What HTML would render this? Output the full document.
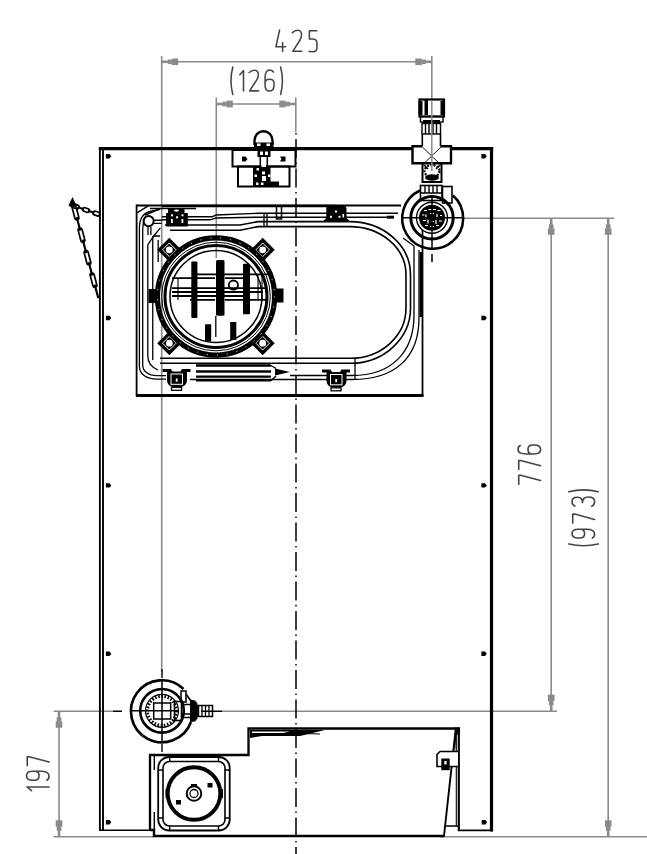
<!DOCTYPE html>
<html><head><meta charset="utf-8">
<style>
html,body{margin:0;padding:0;background:#fff;width:647px;height:854px;overflow:hidden;font-family:"Liberation Sans",sans-serif;}
svg{display:block;position:absolute;left:0;top:0;}
</style></head><body>
<svg width="647" height="854" viewBox="0 0 647 854">
<g fill="none" stroke="#454545" stroke-width="1.55" stroke-linecap="round" stroke-linejoin="round">
<path transform="translate(275.1,30) scale(1.0,1.0)" d="M4.5,0 L0.8,16.8 L10.5,16.8 M7.5,12.5 L7.5,21.5"/><path transform="translate(292,30) scale(1.0,1.0)" d="M0.3,2.6 Q3,0 6,0.2 Q9.5,0.5 9.5,4.8 Q9.5,7.5 8,10 L0.8,21.3 L9.8,21.3"/><path transform="translate(308.7,30) scale(1.0,1.0)" d="M8.2,0.7 L0.7,0.7 L0.7,9 L4.5,9 Q8.2,9.3 8.2,13 L8.2,17.5 Q8.2,21.7 4.2,21.7 L0.3,21.4"/>
<path transform="translate(229.2,70) scale(1.0,0.98)" d="M3.6,-3 Q0,11 3.6,25"/><path transform="translate(239,70) scale(1.0,0.98)" d="M0.8,4.8 L4.5,0.5 L4.5,21.5"/><path transform="translate(248.8,70) scale(1.0,0.98)" d="M0.3,2.6 Q3,0 6,0.2 Q9.5,0.5 9.5,4.8 Q9.5,7.5 8,10 L0.8,21.3 L9.8,21.3"/><path transform="translate(264.5,70) scale(1.0,0.98)" d="M9,2.2 Q8,0 5,0 Q0.6,0 0.6,8 L0.6,15.5 Q0.6,21.5 5,21.5 Q9.5,21.5 9.5,15.5 L9.5,13.8 Q9.5,9.5 5,9.5 Q0.6,9.5 0.6,13.5"/><path transform="translate(280.6,70) scale(1.0,0.98)" d="M0,-3 Q3.6,11 0,25"/>
<g transform="translate(518,486) rotate(-90)"><path transform="translate(1.5,0) scale(1.0,1.05)" d="M0.3,0.7 L9.3,0.7 L9.3,2.5 L4,21.5"/><path transform="translate(16.3,0) scale(1.0,1.05)" d="M0.3,0.7 L9.3,0.7 L9.3,2.5 L4,21.5"/><path transform="translate(31.5,0) scale(1.0,1.05)" d="M9,2.2 Q8,0 5,0 Q0.6,0 0.6,8 L0.6,15.5 Q0.6,21.5 5,21.5 Q9.5,21.5 9.5,15.5 L9.5,13.8 Q9.5,9.5 5,9.5 Q0.6,9.5 0.6,13.5"/></g>
<g transform="translate(572,548) rotate(-90)"><path transform="translate(0.5,0) scale(1.0,1.05)" d="M3.6,-3 Q0,11 3.6,25"/><path transform="translate(9.4,0) scale(1.0,1.05)" d="M0.5,19.3 Q1.5,21.5 4.5,21.5 Q9.4,21.5 9.4,13.5 L9.4,6 Q9.4,0 5,0 Q0.5,0 0.5,6 L0.5,7.5 Q0.5,12 5,12 Q9.4,12 9.4,8"/><path transform="translate(24.6,0) scale(1.0,1.05)" d="M0.3,0.7 L9.3,0.7 L9.3,2.5 L4,21.5"/><path transform="translate(41.4,0) scale(1.0,1.05)" d="M0.5,2.8 Q1.5,0 5,0 Q9.3,0 9.3,5.2 Q9.3,10 4,10 Q9.6,10 9.6,15.5 Q9.6,21.5 5,21.5 Q1.2,21.5 0.3,18.8"/><path transform="translate(56.3,0) scale(1.0,1.05)" d="M0,-3 Q3.6,11 0,25"/></g>
<g transform="translate(26.5,792.5) rotate(-90)"><path transform="translate(1,0) scale(1.0,1.05)" d="M0.8,4.8 L4.5,0.5 L4.5,21.5"/><path transform="translate(11.8,0) scale(1.0,1.05)" d="M0.5,19.3 Q1.5,21.5 4.5,21.5 Q9.4,21.5 9.4,13.5 L9.4,6 Q9.4,0 5,0 Q0.5,0 0.5,6 L0.5,7.5 Q0.5,12 5,12 Q9.4,12 9.4,8"/><path transform="translate(26.5,0) scale(1.0,1.05)" d="M0.3,0.7 L9.3,0.7 L9.3,2.5 L4,21.5"/></g>
</g>
<g stroke="#8a8a8a" stroke-width="1.6" fill="none">
<line x1="161.7" y1="56" x2="161.7" y2="672"/>
<line x1="431.8" y1="56" x2="431.8" y2="100"/>
<line x1="161.7" y1="61.8" x2="431.8" y2="61.8"/>
<line x1="216.3" y1="97.5" x2="216.3" y2="258"/>
<line x1="295.8" y1="97.5" x2="295.8" y2="132"/>
<line x1="216.3" y1="104" x2="295.8" y2="104"/>
<line x1="462" y1="218.3" x2="614" y2="218.3"/>
<line x1="551.2" y1="218.3" x2="551.2" y2="711"/>
<line x1="608.2" y1="218.3" x2="608.2" y2="837"/>
<line x1="53.6" y1="711.2" x2="113" y2="711.2"/>
<line x1="222" y1="711.2" x2="557" y2="711.2"/>
<line x1="53.6" y1="836.8" x2="154" y2="836.8"/>
<line x1="440" y1="836.8" x2="647" y2="836.8"/>
<line x1="59" y1="711.2" x2="59" y2="836.8"/>
</g>
<g fill="#8a8a8a" stroke="none">
<polygon points="161.7,63.1 167.7,63.1 167.7,60.5 161.7,60.5"/><polygon points="167.7,64.1 171.7,64.1 171.7,59.5 167.7,59.5"/><polygon points="171.7,65.1 178.2,65.1 178.2,58.5 171.7,58.5"/>
<polygon points="431.8,60.5 425.8,60.5 425.8,63.1 431.8,63.1"/><polygon points="425.8,59.5 421.8,59.5 421.8,64.1 425.8,64.1"/><polygon points="421.8,58.5 415.3,58.5 415.3,65.1 421.8,65.1"/>
<polygon points="216.3,105.3 222.3,105.3 222.3,102.7 216.3,102.7"/><polygon points="222.3,106.3 226.3,106.3 226.3,101.7 222.3,101.7"/><polygon points="226.3,107.3 232.8,107.3 232.8,100.7 226.3,100.7"/>
<polygon points="295.8,102.7 289.8,102.7 289.8,105.3 295.8,105.3"/><polygon points="289.8,101.7 285.8,101.7 285.8,106.3 289.8,106.3"/><polygon points="285.8,100.7 279.3,100.7 279.3,107.3 285.8,107.3"/>
<polygon points="549.9,218.3 549.9,224.3 552.5,224.3 552.5,218.3"/><polygon points="548.9,224.3 548.9,228.3 553.5,228.3 553.5,224.3"/><polygon points="547.9,228.3 547.9,234.8 554.5,234.8 554.5,228.3"/>
<polygon points="552.5,711.2 552.5,705.2 549.9,705.2 549.9,711.2"/><polygon points="553.5,705.2 553.5,701.2 548.9,701.2 548.9,705.2"/><polygon points="554.5,701.2 554.5,694.7 547.9,694.7 547.9,701.2"/>
<polygon points="606.9,218.3 606.9,224.3 609.5,224.3 609.5,218.3"/><polygon points="605.9,224.3 605.9,228.3 610.5,228.3 610.5,224.3"/><polygon points="604.9,228.3 604.9,234.8 611.5,234.8 611.5,228.3"/>
<polygon points="609.5,836.8 609.5,830.8 606.9,830.8 606.9,836.8"/><polygon points="610.5,830.8 610.5,826.8 605.9,826.8 605.9,830.8"/><polygon points="611.5,826.8 611.5,820.3 604.9,820.3 604.9,826.8"/>
<polygon points="57.7,711.2 57.7,717.2 60.3,717.2 60.3,711.2"/><polygon points="56.7,717.2 56.7,721.2 61.3,721.2 61.3,717.2"/><polygon points="55.7,721.2 55.7,727.7 62.3,727.7 62.3,721.2"/>
<polygon points="60.3,836.8 60.3,830.8 57.7,830.8 57.7,836.8"/><polygon points="61.3,830.8 61.3,826.8 56.7,826.8 56.7,830.8"/><polygon points="62.3,826.8 62.3,820.3 55.7,820.3 55.7,826.8"/>
</g>
<line x1="296" y1="133" x2="296" y2="854" stroke="#000" stroke-width="1.5" stroke-dasharray="19 4.5 1.5 4.5" stroke-dashoffset="23.5"/>
<g stroke="#000" fill="none">
<line x1="99.9" y1="147" x2="99.9" y2="831" stroke-width="1.9"/>
<line x1="103" y1="149.5" x2="103" y2="830" stroke-width="1.9"/>
<line x1="98.8" y1="148.7" x2="493.2" y2="148.7" stroke-width="3.3"/>
<line x1="491.5" y1="147" x2="491.5" y2="831.5" stroke-width="3.2"/>
<line x1="99" y1="830.3" x2="151" y2="830.3" stroke-width="1.6"/>
<line x1="458" y1="830.3" x2="493" y2="830.3" stroke-width="1.8"/>
</g>
<g fill="#000">
<path d="M105.9,154.10000000000002 h3.6 l1.8,2.2 l-1.8,2.2 h-3.6z"/>
<path d="M481.4,154.10000000000002 h3.6 l1.8,2.2 l-1.8,2.2 h-3.6z"/>
<path d="M105.9,315.8 h3.6 l1.8,2.2 l-1.8,2.2 h-3.6z"/>
<path d="M481.4,315.8 h3.6 l1.8,2.2 l-1.8,2.2 h-3.6z"/>
<path d="M105.9,483.2 h3.6 l1.8,2.2 l-1.8,2.2 h-3.6z"/>
<path d="M481.4,483.2 h3.6 l1.8,2.2 l-1.8,2.2 h-3.6z"/>
<path d="M105.9,651.5999999999999 h3.6 l1.8,2.2 l-1.8,2.2 h-3.6z"/>
<path d="M481.4,651.5999999999999 h3.6 l1.8,2.2 l-1.8,2.2 h-3.6z"/>
<path d="M105.9,820.0 h3.6 l1.8,2.2 l-1.8,2.2 h-3.6z"/>
<path d="M481.7,820.0 h3.6 l1.8,2.2 l-1.8,2.2 h-3.6z"/>
</g>
<g stroke="#000" fill="none" stroke-width="1.5">
<line x1="136.5" y1="205.5" x2="401" y2="205.5" stroke-width="2.2"/>
<line x1="136.6" y1="204.5" x2="136.6" y2="396.5" stroke-width="1.8"/>
<line x1="422.5" y1="230" x2="422.5" y2="396.5" stroke-width="1.8"/>
<line x1="136" y1="395.6" x2="423.5" y2="395.6" stroke-width="3"/>
</g>
<g stroke="#000" fill="none" stroke-width="1.8">
<path d="M254.5,145 V140.5 A9,9.3 0 0 1 272.5,140.5 V145" stroke-width="2.4"/>
<rect x="232.5" y="150" width="63" height="16.5" stroke-width="2"/>
<rect x="238" y="166.5" width="51.5" height="20" stroke-width="2"/>
<line x1="260.3" y1="150" x2="260.3" y2="186" stroke-width="1.6"/>
<line x1="267.3" y1="150" x2="267.3" y2="186" stroke-width="1.6"/>
</g>
<g fill="#000">
<rect x="254" y="142.5" width="19.5" height="5"/>
<rect x="257.5" y="150" width="13" height="7"/>
<path d="M242,156.5 h3.5 l2,2.5 l-2,2.5 h-3.5z"/><path d="M280,156.5 h5.5 v5 h-5.5 l1.5,-2.5z"/>
<rect x="253" y="167" width="17.5" height="19"/>
<rect x="268" y="181.5" width="11" height="4.5"/>
</g>
<g fill="#fff">
<rect x="257" y="143.5" width="3.5" height="2.5"/><rect x="266.5" y="143.5" width="3.5" height="2.5"/>
<rect x="260" y="151.5" width="3" height="3.5"/><rect x="265" y="151.5" width="3" height="3.5"/>
<rect x="261.5" y="157" width="4.5" height="10"/>
<rect x="256.5" y="168" width="2.5" height="2.5"/><rect x="254.5" y="174.5" width="2.5" height="2.5"/><rect x="262" y="171.5" width="3" height="3"/>
<rect x="268" y="174.5" width="2.5" height="2.5"/><rect x="256" y="182.5" width="2.5" height="2.5"/><rect x="261" y="182.5" width="2.5" height="2.5"/>
<rect x="262" y="176" width="4" height="5"/>
</g>
<g stroke="#000" fill="none" stroke-width="1.6">
<rect x="419.5" y="99.5" width="24.5" height="17" stroke-width="2.2"/>
<rect x="420.5" y="116.5" width="22.5" height="5.5" stroke-width="1.4"/>
<rect x="422" y="123.5" width="18.5" height="10.5" stroke-width="1.4"/>
<path d="M425.5,124 V134 M429,124 V134 M433,124 V134 M436.5,124 V134" stroke-width="1.4"/>
<path d="M422.3,134 V146 M440.5,134 V146" stroke-width="1.6"/>
<rect x="412.5" y="146.5" width="38.5" height="16.7" stroke-width="0" fill="#fff"/>
<path d="M422.3,146.3 H412.5 V163.2 H451 V146.3 H440.5" stroke-width="2.4"/>
<path d="M422.3,147 L441,165 M441,147 L422.3,165" stroke-width="0.9"/>
<rect x="422.5" y="163" width="19" height="19" stroke-width="2"/>
<rect x="420.5" y="185.5" width="21.5" height="15" stroke-width="1.6"/>
<path d="M425,186 V193 M429,186 V193 M433,186 V193 M437,186 V193 M421,193 H442" stroke-width="1.4"/>
<rect x="442.5" y="186.5" width="9.5" height="16.5" stroke-width="1.6"/>
</g>
<g fill="#000">
<rect x="418.5" y="101" width="4" height="14"/><rect x="440.5" y="101" width="4" height="14"/><rect x="424.5" y="100" width="3.5" height="15"/>
<rect x="423" y="120" width="17" height="3"/>
<ellipse cx="432" cy="171" rx="7.5" ry="6" fill="none" stroke="#000" stroke-width="2.2" stroke-dasharray="2 1.3"/>
<ellipse cx="432" cy="177.5" rx="7" ry="3.2"/>
<path d="M424,165 l4,4 M440,165 l-4,4" stroke="#000" stroke-width="1.5"/>
</g>
<g fill="#fff">
</g>
<g stroke="#000" fill="none" stroke-width="1.8">
<path d="M420,190.5 A30.5,30.5 0 1 0 453,195.5" stroke-width="2.5"/>
<circle cx="432" cy="217.7" r="21.2" stroke-width="3"/>
<circle cx="432" cy="217.7" r="15.5" stroke-width="1.4"/>
</g>
<circle cx="432" cy="217.7" r="13" fill="#000"/>
<g stroke="#fff" stroke-width="1.2" fill="none">
<path d="M424,210.5 h3 M428.5,209.5 h3 M433,209.5 h3 M437.5,210.5 h3 M422,215 h2.5 M426,214.5 v4 M430,213.5 h4 M437,214 v4 M440,215.5 h2 M423,220.5 h3 M428,219.5 v4 M431,221.5 h3 M436,220 v4 M439,221 h3 M425,225.5 h3 M430,226.5 h4 M436,225.5 h3"/>
</g>
<g stroke="#000" fill="none">
<path d="M401,217.7 H462" stroke-width="1.5"/>
<path d="M432,195 V248" stroke-width="1.5"/>
<path d="M432,254 V262" stroke-width="1.5"/>
<path d="M431.8,100 V171" stroke="#8a8a8a" stroke-width="1.5"/>
</g>
<g stroke="#000" fill="none" stroke-width="1.3">
<path d="M162,206 H335" stroke-width="2.4"/>
<path d="M150,208.5 H196" stroke-width="1.3"/>
<path d="M162,216.8 H212 L216,215 L258,213.3 H398" stroke-width="1.4"/>
<path d="M162,219.8 H210 L216,218 L258,217.2 H394" stroke-width="1.4"/>
<path d="M387,217.2 H394" stroke-width="3"/>
<path d="M165,225 H240 L258,221.6 H350 A60.5,53 0 0 1 410.5,274.6 V308 A60,55 0 0 1 350.5,363.3 H160" stroke-width="1.6"/>
<path d="M170,230.2 H240 L258,226.6 H350 A56,48 0 0 1 406,274.6 V308 A55.5,50 0 0 1 350.5,358.3 H160" stroke-width="1.6"/>
<path d="M403,238 L414,246 V315 C414,352 392,375.5 352,375.5 H290" stroke-width="1.3"/>
<path d="M419,250 V318 C419,357 396,379.5 352,379.5 H190" stroke-width="1.3"/>
<path d="M420.8,252 V317" stroke-width="2.4"/>
<path d="M355,358 V380" stroke-width="1.3"/>
<path d="M139.4,366 V228 Q139.4,213 152,211 L160,209.3" />
<path d="M142.7,365 V232 Q142.7,220 146,216"/>
<path d="M139.4,366 C139.4,374 146,379.2 157,379.2 H166"/>
<path d="M142.7,365 C142.7,371 148,375.7 157,375.7 H166"/>
<path d="M147.8,356 V245 L153.7,236 H160 M160.4,227.9 L153.7,236" stroke-width="1.3"/>
<path d="M147.8,356 C147.8,363 151,367 158,370"/>
<path d="M152.75,236 V360" stroke-width="1.3"/>
<path d="M158.2,240 V262" stroke-width="1.3"/>
<path d="M137.4,212.7 L148.6,205.7 M145.2,215 L158.7,209.3" stroke-width="1.4"/>
<circle cx="148.6" cy="221.1" r="5.1" stroke-width="1.9"/>
<path d="M154,220.3 H162 M154,223.4 H162" stroke-width="1.4"/>
<path d="M148,227 V235 M150.9,227 V235" stroke-width="1.3"/>
<path d="M196,365.5 H271 M196,371.5 H271 M196,376.6 H271" stroke-width="2.3"/>
<path d="M196,380.8 H271" stroke-width="1.5"/>
<path d="M271,365.5 L276,368.5 M271,380.8 L276,376" stroke-width="1.4"/>
<rect x="276.5" y="206" width="5" height="13" stroke-width="1.5"/>
<path d="M264,213 V226 M267,213 V226"/>
</g>
<path d="M275,368.5 L290,372 L275,375.5 Z" fill="#000"/>
<g fill="#000">
<path d="M168,208 H184.5 V212.9 H187.8 V226.5 H166.1 V212.9 H168 Z"/>
<path d="M326.8,205 H344.5 L346.5,208 V218 L350,221.3 H323 L326.3,218 V208 Z"/>
</g>
<g fill="#fff">
<ellipse cx="176.5" cy="210.6" rx="2.6" ry="1.1"/><rect x="171" y="214.3" width="2" height="2"/><rect x="176" y="216.3" width="2" height="2"/><rect x="181.5" y="214.3" width="2" height="2"/><rect x="171" y="219" width="1.8" height="4"/><rect x="181.5" y="219" width="1.8" height="4"/>
<rect x="335" y="210.5" width="2" height="2"/><rect x="330" y="215.8" width="2" height="2"/><rect x="338.5" y="215.8" width="2" height="2"/><rect x="342.5" y="214" width="1.6" height="3.5"/>
</g>
<g transform="translate(163,369)">
<path d="M-0.5,0 H8 L9.5,2.5 H17.5 L19,0 H27.5 V3 H24 V11 C24,15.5 20.5,18 17,18 H11 C7.5,18 4,15.5 4,11 V3 H-0.5 Z" fill="#000"/>
<rect x="8" y="5" width="11.5" height="10.3" fill="none" stroke="#fff" stroke-width="1"/>
<rect x="12.8" y="9.5" width="1.8" height="3.2" fill="#fff"/>
<rect x="8.5" y="18.3" width="10" height="3" fill="#fff" stroke="#000" stroke-width="1.3"/>
</g>
<g transform="translate(322.5,369.5)">
<path d="M-0.5,0 H8 L9.5,2.5 H17.5 L19,0 H27.5 V3 H24 V11 C24,15.5 20.5,18 17,18 H11 C7.5,18 4,15.5 4,11 V3 H-0.5 Z" fill="#000"/>
<rect x="8" y="5" width="11.5" height="10.3" fill="none" stroke="#fff" stroke-width="1"/>
<rect x="12.8" y="9.5" width="1.8" height="3.2" fill="#fff"/>
<rect x="8.5" y="18.3" width="10" height="3" fill="#fff" stroke="#000" stroke-width="1.3"/>
</g>
<g stroke="#000" fill="none">
<g transform="translate(262.7,249.8)"><rect x="-8.5" y="-8.5" width="17" height="17" fill="#000" stroke="none" transform="rotate(45)"/><rect x="-4.8" y="-4.8" width="9.6" height="9.6" fill="none" stroke="#fff" stroke-width="0.9" transform="rotate(45)"/><circle r="3.4" fill="#fff" stroke="none"/></g>
<g transform="translate(169.3,249.8)"><rect x="-8.5" y="-8.5" width="17" height="17" fill="#000" stroke="none" transform="rotate(45)"/><rect x="-4.8" y="-4.8" width="9.6" height="9.6" fill="none" stroke="#fff" stroke-width="0.9" transform="rotate(45)"/><circle r="3.4" fill="#fff" stroke="none"/></g>
<g transform="translate(169.3,343.2)"><rect x="-8.5" y="-8.5" width="17" height="17" fill="#000" stroke="none" transform="rotate(45)"/><rect x="-4.8" y="-4.8" width="9.6" height="9.6" fill="none" stroke="#fff" stroke-width="0.9" transform="rotate(45)"/><circle r="3.4" fill="#fff" stroke="none"/></g>
<g transform="translate(262.7,343.2)"><rect x="-8.5" y="-8.5" width="17" height="17" fill="#000" stroke="none" transform="rotate(45)"/><rect x="-4.8" y="-4.8" width="9.6" height="9.6" fill="none" stroke="#fff" stroke-width="0.9" transform="rotate(45)"/><circle r="3.4" fill="#fff" stroke="none"/></g>
<circle cx="216" cy="296.5" r="58.6" stroke-width="5.2"/>
<circle cx="216" cy="296.5" r="58.6" stroke-width="1" stroke="#fff" stroke-dasharray="1 9"/>
<circle cx="216" cy="296.5" r="51" stroke-width="3"/>
<circle cx="216" cy="296.5" r="54.3" stroke-width="1"/>
<circle cx="216" cy="296.5" r="46" stroke-width="1.5"/>
<path d="M148.5,289 H157 V303 H148.5 Z" fill="#000" stroke="none"/>
<path d="M275,288.5 H283.5 V302.5 H275 Z" fill="#000" stroke="none"/>
<path d="M197,274.3 H270 M172,278.2 H215 M225,278.2 H243 M172,288.2 H265 M172,292 H263 M172,296 H250 M190,299.8 H215 M225,299.8 H268" stroke-width="1.8"/>
<path d="M178,279 V300 M258,275 V300 M262,275 V300" stroke-width="1.1"/>
<circle cx="233.4" cy="285.1" r="4.6" stroke-width="1.8"/>
<path d="M215.8,316 V337" stroke-width="1.3"/>
</g>
<g fill="#000">
<rect x="191.3" y="261.5" width="6.1" height="56.6" rx="1"/>
<rect x="216" y="259.9" width="8.5" height="55.8" rx="1.5"/>
<rect x="243" y="263.8" width="7" height="50.4" rx="1"/>
<rect x="205" y="324.3" width="6.2" height="17"/>
<rect x="230.2" y="322" width="6.1" height="18"/>
</g>
<g transform="translate(73,205.5) rotate(19.09)"><rect x="-0.66" y="-1.90" width="6.82" height="3.80" rx="1.90" fill="none" stroke="#000" stroke-width="1.7"/><line x1="4.95" y1="0" x2="11.56" y2="0" stroke="#000" stroke-width="2.1"/><rect x="10.35" y="-1.90" width="6.82" height="3.80" rx="1.90" fill="none" stroke="#000" stroke-width="1.7"/><line x1="15.96" y1="0" x2="22.56" y2="0" stroke="#000" stroke-width="2.1"/><rect x="21.35" y="-1.90" width="6.82" height="3.80" rx="1.90" fill="none" stroke="#000" stroke-width="1.7"/></g>
<g transform="translate(74,207) rotate(75.07)"><rect x="-1.40" y="-2.00" width="14.44" height="4.00" rx="2.00" fill="none" stroke="#000" stroke-width="1.7"/><line x1="10.48" y1="0" x2="24.45" y2="0" stroke="#000" stroke-width="2.1"/><rect x="21.89" y="-2.00" width="14.44" height="4.00" rx="2.00" fill="none" stroke="#000" stroke-width="1.7"/><line x1="33.77" y1="0" x2="47.74" y2="0" stroke="#000" stroke-width="2.1"/><rect x="45.18" y="-2.00" width="14.44" height="4.00" rx="2.00" fill="none" stroke="#000" stroke-width="1.7"/><line x1="57.05" y1="0" x2="71.02" y2="0" stroke="#000" stroke-width="2.1"/><rect x="68.46" y="-2.00" width="14.44" height="4.00" rx="2.00" fill="none" stroke="#000" stroke-width="1.7"/><line x1="80.34" y1="0" x2="94.31" y2="0" stroke="#000" stroke-width="2.1"/></g>
<path d="M72.5,197 L76,204.5 L73,208.5 L68.5,205.5 Z" fill="#000"/>
<g stroke="#000" fill="none">
<path d="M183.5,689 A31,31 0 1 0 191,722" stroke-width="2.6"/>
<path d="M181,691 h5 v11 h-5 z" stroke-width="1.5"/>
<path d="M186,694 L191,701" stroke-width="1.6"/>
<circle cx="162" cy="710.8" r="21.8" stroke-width="2.6"/>
<circle cx="162" cy="710.8" r="14.5" stroke-width="3" stroke-dasharray="1.6 1.6"/>
<circle cx="162" cy="710.8" r="16.5" stroke-width="1.2"/>
<path d="M153.7,702 V719.5 M162,681 V741 M170.7,702 V719.5 M153,702.9 H171.5 M132,710.8 H174 M153,719 H171.5" stroke-width="1.5"/>
<path d="M113,711.2 H122 M201,711.2 H222" stroke-width="1.5"/>
<path d="M162,669 V678 M162,744 V752" stroke-width="1.4"/>
<rect x="174.5" y="701.5" width="7" height="19" stroke-width="1.6"/>
<path d="M181.5,704.5 H190 M181.5,714 H190 M181.5,717.5 H190" stroke-width="1.4"/>
<rect x="198.5" y="705.5" width="14" height="11" stroke-width="1.5"/>
<path d="M202,706 V716 M205.5,706 V716 M209,706 V716" stroke-width="1.3"/>
</g>
<path d="M190,699.5 L195,700.5 Q198,703 198,706 V716 Q198,719 195,721.5 L190,722 Z" fill="#000"/>
<g stroke="#000" fill="none">
<path d="M150,830 V755 H248.5 V728.5 H459.5" stroke-width="2.3"/>
<path d="M154.3,756 V770 M154.3,812 V829" stroke-width="1.4"/>
<path d="M150,830 H154 V836 H444.5" stroke-width="2.4"/>
<rect x="158.2" y="757" width="71.5" height="73.5" rx="11" stroke-width="1.8"/>
<rect x="163" y="761.5" width="62" height="64.5" rx="6.5" stroke-width="1.6"/>
<path d="M158,770 H163 M225,770 H230 M158,818 H163 M225,818 H230 M169.7,757 V761.5 M218.5,757 V761.5 M169.7,826 V830.5 M218.5,826 V830.5" stroke-width="1.4"/>
<circle cx="194" cy="793.5" r="26.3" stroke-width="3.9"/>
<circle cx="194" cy="793.5" r="7.3" stroke-width="2"/>
<circle cx="194" cy="793.5" r="4" stroke-width="1.3"/>
</g>
<g fill="#000">
<rect x="207.5" y="783" width="5" height="4.5"/><rect x="176" y="800" width="5" height="4.5"/>
<rect x="165.5" y="789" width="3.5" height="9"/><rect x="219.5" y="789" width="3.5" height="9"/>
<rect x="191" y="784" width="6" height="3"/>
</g>
<g stroke="#000" fill="none">
<path d="M458.8,729 V831" stroke-width="2.2"/>
<path d="M456.3,735 V826" stroke-width="1.1"/>
<path d="M455.3,733 L444,836" stroke-width="1.9"/>
<path d="M444,826 H459" stroke-width="1.5"/>
<path d="M458,751.5 H440 L437,754.5 V766.5 H458" stroke-width="1.6" fill="#fff"/>
<path d="M252,732 L320,734" stroke-width="1.2"/>
</g>
<g fill="#000">
<rect x="454.5" y="727.5" width="5.5" height="7.5"/>
<rect x="441.3" y="758.5" width="8.4" height="11.7"/>
<path d="M453.6,745 L455.3,733 L456.5,733 L455,751 Z"/>
<path d="M250,730 H325 L300,736 H262 L250,738 Z"/>
</g>
<g fill="#fff"><rect x="444.3" y="761" width="2.3" height="3.5"/><path d="M252,731.5 H290 L283,733 H252Z"/></g>
</svg>
</body></html>
